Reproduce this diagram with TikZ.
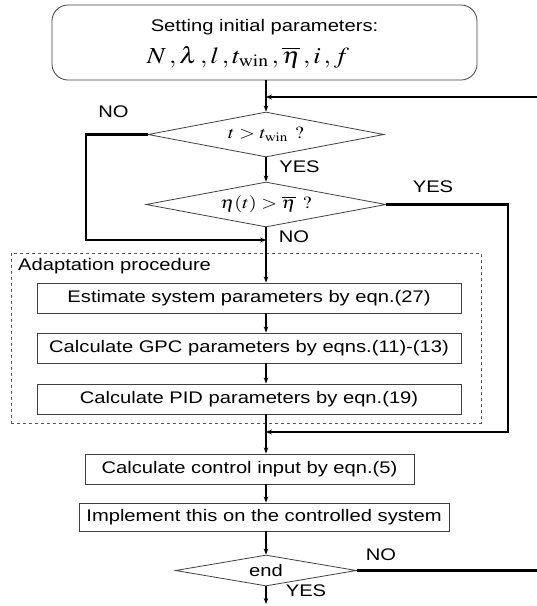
\documentclass[tikz,border=0pt]{standalone}
\usepackage{mathptmx}
\usepackage[no-math]{fontspec}
\setmainfont{Liberation Sans}[FakeStretch=1.2]
\usetikzlibrary{shapes.geometric,arrows.meta}
\begin{document}
\begin{tikzpicture}[x=1pt,y=-1pt,
  every node/.style={font=\fontsize{16.8}{18}\selectfont, inner sep=0pt, text=black},
  stepbox/.style={draw=black!75, line width=0.9pt, minimum height=30pt},
  decision/.style={draw=black!75, line width=0.8pt, shape=diamond, aspect=5.3, inner sep=0pt},
  flow/.style={line width=1.4pt, -{Stealth[length=6pt,width=4.5pt]}},
  loopline/.style={line width=2.8pt},
  looparrow/.style={line width=2.8pt, -{Stealth[length=6pt,width=5pt]}},
  lbl/.style={font=\fontsize{16.8}{18}\selectfont}
]
\useasboundingbox (0,0) rectangle (537,606);
\coordinate (spine) at (266,0);

% start box
\node[draw=black!75, line width=0.8pt, rounded corners=16pt, minimum width=425pt, minimum height=75pt] (init) at (264.5,42.5) {};
\node (initA) at (264.5,27) {Setting initial parameters:};
\node[font=\fontsize{23}{25}\selectfont] (initB) at (248,57) {\scalebox{1.15}[1]{$N\,, \lambda\,, l\,, t_{\mathrm{win}}\,, \overline{\eta}\,, i\,, f$}};

% decisions
\node[decision, minimum width=236pt, minimum height=45pt, font=\fontsize{17}{19}\selectfont] (d1) at (266,134.5) {\scalebox{1.2}[1]{$t > t_{\mathrm{win}}\ ?$}};
\node[decision, minimum width=240pt, minimum height=45pt, font=\fontsize{17}{19}\selectfont] (d2) at (266,204.5) {\scalebox{1.2}[1]{$\eta(t) > \overline{\eta}\ ?$}};

% adaptation group
\node[draw=black!65, dashed, line width=0.7pt, minimum width=470pt, minimum height=170pt] (adapt) at (246,338) {};
\node[anchor=west] (adaptlbl) at (18,266) {Adaptation procedure};
\node[stepbox, minimum width=424pt] (b1) at (249,298) {Estimate system parameters by eqn.(27)};
\node[stepbox, minimum width=424pt] (b2) at (249,348) {Calculate GPC parameters by eqns.(11)-(13)};
\node[stepbox, minimum width=424pt] (b3) at (249,399) {Calculate PID parameters by eqn.(19)};

\node[stepbox, minimum width=329pt] (b4) at (249.5,469) {Calculate control input by eqn.(5)};
\node[stepbox, minimum width=370pt, minimum height=28pt] (b5) at (264,517) {Implement this on the controlled system};
\node[decision, aspect=5.8, minimum width=181pt, minimum height=31pt] (d3) at (266,570.5) {end};

% main flow
\draw[flow] (init.south -| spine) -- (d1.north);
\draw[flow] (d1.south) -- (d2.north);
\draw[flow] (d2.south) -- (b1.north -| spine);
\draw[flow] (b1.south -| spine) -- (b2.north -| spine);
\draw[flow] (b2.south -| spine) -- (b3.north -| spine);
\draw[flow] (b3.south -| spine) -- (b4.north -| spine);
\draw[flow] (b4.south -| spine) -- (b5.north -| spine);
\draw[flow] (b5.south -| spine) -- (d3.north);
\coordinate (out) at (266,604);
\draw[flow] (d3.south) -- (out);

% loops
\coordinate (rin) at (537,97);
\draw[looparrow] (rin) -- (rin -| spine);
\coordinate (nol) at (86,240);
\draw[looparrow] (d1.west) -| (nol) -- (nol -| spine);
\coordinate (yesr) at (508,432);
\draw[looparrow] (d2.east) -| (yesr) -- (yesr -| spine);
\coordinate (endr) at (537,570.5);
\draw[loopline] (d3.east) -- (endr);

% labels
\node[lbl] (l1) at (113.5,112) {NO};
\node[lbl] (l2) at (299.5,167) {YES};
\node[lbl] (l3) at (433,187) {YES};
\node[lbl] (l4) at (294,237) {NO};
\node[lbl] (l5) at (381,555) {NO};
\node[lbl] (l6) at (306,591) {YES};
\end{tikzpicture}
\end{document}
